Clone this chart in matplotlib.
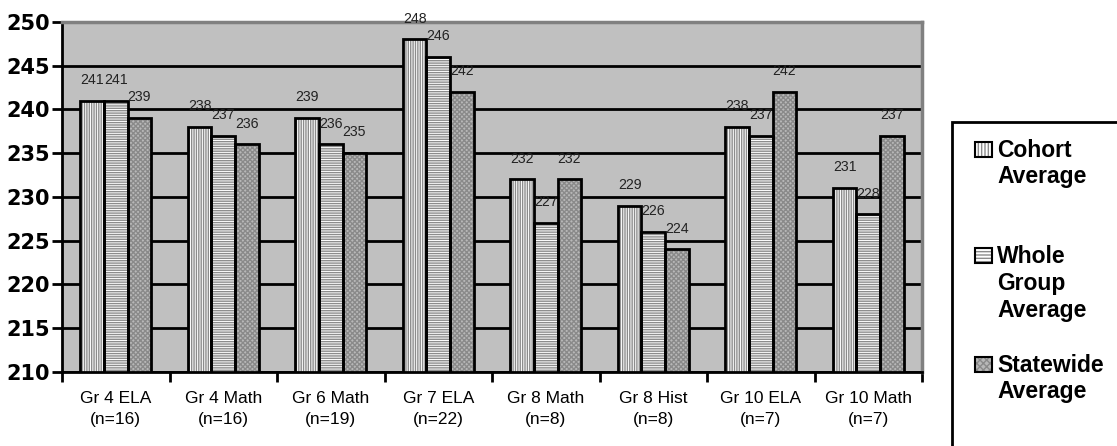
import numpy as np
import matplotlib.pyplot as plt
from matplotlib.patches import Rectangle

plt.rcParams['font.family'] = ['Liberation Sans', 'DejaVu Sans']
plt.rcParams['hatch.linewidth'] = 1.0

groups = ['Gr 4 ELA\n(n=16)', 'Gr 4 Math\n(n=16)', 'Gr 6 Math\n(n=19)', 'Gr 7 ELA\n(n=22)',
          'Gr 8 Math\n(n=8)', 'Gr 8 Hist\n(n=8)', 'Gr 10 ELA\n(n=7)', 'Gr 10 Math\n(n=7)']
cohort = [241, 238, 239, 248, 232, 229, 238, 231]
whole_group = [241, 237, 236, 246, 227, 226, 237, 228]
statewide = [239, 236, 235, 242, 232, 224, 242, 237]

series = [
    (['Cohort', 'Average'], cohort, 'white', '|||||||', '#8c8c8c'),
    (['Whole', 'Group', 'Average'], whole_group, 'white', '-------', '#8c8c8c'),
    (['Statewide', 'Average'], statewide, '#b8b8b8', 'xxxxxxx', '#8a8a8a'),
]

W, H = 1117, 446
fig = plt.figure(figsize=(W / 100, H / 100), dpi=100)
ax = fig.add_axes([62 / W, 1 - 372 / H, 860 / W, 350 / H])
ax.set_facecolor('#c0c0c0')

x = np.arange(len(groups))
w = 0.22
for i, (name, vals, fc, hatch, hc) in enumerate(series):
    pos = x + (i - 1) * w
    base = 210
    heights = [v - base for v in vals]
    # hatch layer, then black outline on top
    ax.bar(pos, heights, w, bottom=base, color=fc, hatch=hatch, edgecolor=hc, linewidth=0, zorder=3)
    ax.bar(pos, heights, w, bottom=base, fill=False, edgecolor='black', linewidth=2, zorder=4)
    for px, v in zip(pos, vals):
        ax.annotate(str(v), (px, v), xytext=(0, 10), textcoords='offset points',
                    ha='center', va='bottom', fontsize=10.2, color='#222222', zorder=5)

ax.set_ylim(210, 250)
ax.set_xlim(-0.5, len(groups) - 0.5)
ax.set_yticks(range(210, 251, 5))
ax.yaxis.grid(True, color='black', linewidth=2)
ax.set_axisbelow(True)
for lbl in ax.get_yticklabels():
    lbl.set_fontweight('bold')
    lbl.set_family('DejaVu Sans')
    lbl.set_fontsize(15)
ax.tick_params(axis='y', length=7, width=2, pad=2)

ax.set_xticks(x)
ax.set_xticklabels(groups, fontsize=12.5, linespacing=1.45)
ax.set_xticks(np.arange(-0.5, len(groups)), minor=True)
ax.tick_params(axis='x', which='major', length=0, pad=14)
ax.tick_params(axis='x', which='minor', length=7, width=2, direction='out')

ax.spines['left'].set_linewidth(2)
ax.spines['bottom'].set_linewidth(2)
ax.spines['top'].set_color('#808080')
ax.spines['top'].set_linewidth(2.5)
ax.spines['right'].set_color('#808080')
ax.spines['right'].set_linewidth(2.5)

# legend box, running off the figure edge
fig.patches.append(Rectangle((952 / W, -0.1), 0.3, 1.1 - 122 / H, transform=fig.transFigure,
                             fill=False, edgecolor='black', linewidth=2))
baselines = [[157, 183], [263, 290, 317], [372, 398]]
for (lines, vals, fc, hatch, hc), bls in zip(series, baselines):
    hy = 1 - bls[0] / H
    fig.patches.append(Rectangle((975 / W, hy), 17 / W, 15 / H, transform=fig.transFigure,
                                 facecolor=fc, hatch=hatch[:5], edgecolor=hc, linewidth=0))
    fig.patches.append(Rectangle((975 / W, hy), 17 / W, 15 / H, transform=fig.transFigure,
                                 fill=False, edgecolor='black', linewidth=1.5))
    for line, b in zip(lines, bls):
        fig.text(997 / W, 1 - b / H, line, fontsize=16.5, fontweight='bold',
                 va='baseline', ha='left')

fig.savefig('out.png', dpi=100)
